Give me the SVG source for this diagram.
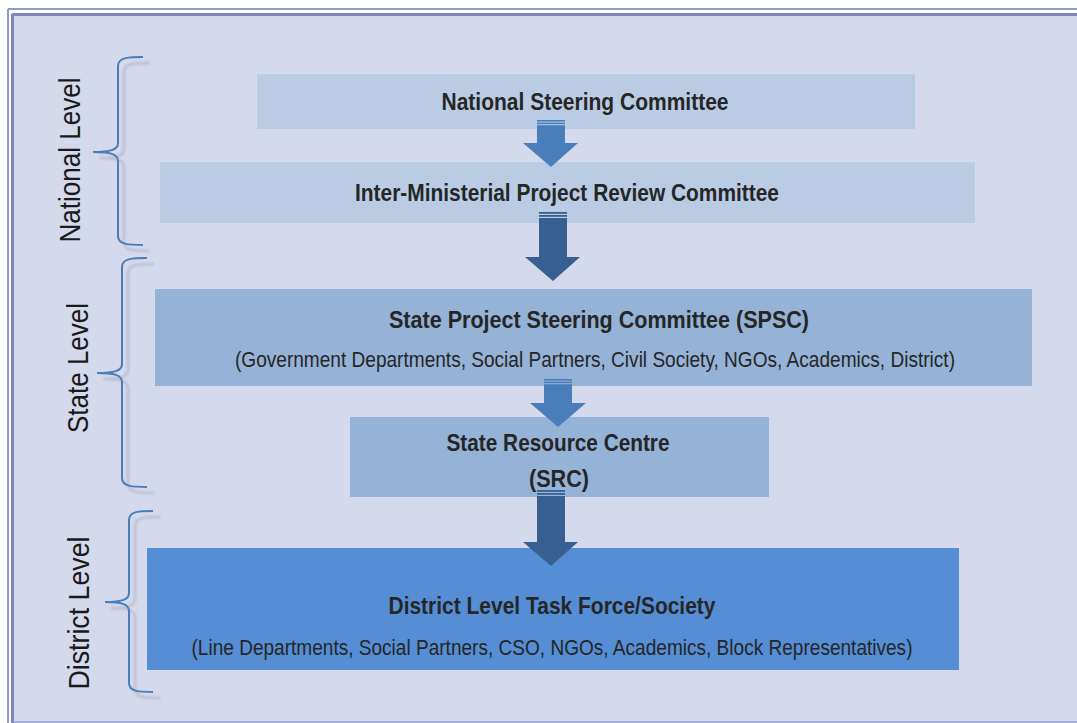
<svg xmlns="http://www.w3.org/2000/svg" width="1077" height="723" viewBox="0 0 1077 723">
  <defs>
    <style>
      .lvl { font-family: "Liberation Sans", Arial, sans-serif; font-size: 30px; fill: #1a1a1a; }
      .ttl { font-family: "Liberation Sans", Arial, sans-serif; font-size: 24px; font-weight: bold; fill: #262626; }
      .sub { font-family: "Liberation Sans", Arial, sans-serif; font-size: 22px; fill: #262626; }
      .brace { fill: none; stroke: #4A7EBB; stroke-width: 2; }
      .brace-sh { fill: none; stroke: #A9ADBF; stroke-width: 2.5; opacity: 0.6; }
      .tier1 { fill: #B9CCE4; }
      .tier2 { fill: #95B3D7; }
      .tier3 { fill: #558ED5; }
      .arr-light { fill: #4A7EBB; }
      .arr-dark { fill: #385F92; }
    </style>
    <filter id="soft" x="-20%" y="-20%" width="140%" height="140%">
      <feGaussianBlur stdDeviation="1.2"/>
    </filter>
  </defs>

  <!-- page frame -->
  <rect x="0" y="0" width="1077" height="723" fill="#FFFFFF"/>
  <rect x="14" y="16" width="1063" height="706" fill="#D4D9EC"/>
  <line x1="8" y1="9" x2="1077" y2="9" stroke="#959BC8" stroke-width="2"/>
  <line x1="12" y1="14.5" x2="1077" y2="14.5" stroke="#7E88C0" stroke-width="3"/>
  <line x1="8" y1="9" x2="8" y2="723" stroke="#959BC8" stroke-width="2"/>
  <line x1="12.5" y1="14" x2="12.5" y2="723" stroke="#7E88C0" stroke-width="3"/>
  <line x1="14" y1="722" x2="1077" y2="722" stroke="#A9B0D6" stroke-width="2"/>

  <!-- level labels -->
  <g id="label-national">
    <text class="lvl" transform="translate(80,160) rotate(-90)" text-anchor="middle" textLength="165" lengthAdjust="spacingAndGlyphs">National Level</text>
  </g>
  <g id="label-state">
    <text class="lvl" transform="translate(88,368) rotate(-90)" text-anchor="middle" textLength="130" lengthAdjust="spacingAndGlyphs">State Level</text>
  </g>
  <g id="label-district">
    <text class="lvl" transform="translate(89,613) rotate(-90)" text-anchor="middle" textLength="153" lengthAdjust="spacingAndGlyphs">District Level</text>
  </g>

  <!-- braces -->
  <g id="brace-national">
    <path class="brace-sh" filter="url(#soft)" d="M150,63 C136,63 124,63 124,72 L124,149 C124,156 116,158 99,158 C116,158 124,160 124,167 L124,242 C124,251 136,251 150,251"/>
    <path class="brace" d="M143,57 C130,57 118,57 118,66 L118,143 C118,150 110,152 93,152 C110,152 118,154 118,161 L118,236 C118,245 130,245 143,245"/>
  </g>
  <g id="brace-state">
    <path class="brace-sh" filter="url(#soft)" d="M154,264 C140,264 128,264 128,273 L128,370 C128,377 120,379 103,379 C120,379 128,381 128,388 L128,484 C128,493 140,493 154,493"/>
    <path class="brace" d="M147,258 C134,258 122,258 122,267 L122,364 C122,371 114,373 97,373 C114,373 122,375 122,382 L122,478 C122,487 134,487 147,487"/>
  </g>
  <g id="brace-district">
    <path class="brace-sh" filter="url(#soft)" d="M160,517 C146,517 135,517 135,526 L135,599 C135,606 127,608 111,608 C127,608 135,610 135,617 L135,689 C135,698 146,698 160,698"/>
    <path class="brace" d="M153,511 C140,511 129,511 129,520 L129,593 C129,600 121,602 105,602 C121,602 129,604 129,611 L129,683 C129,692 140,692 153,692"/>
  </g>

  <!-- nodes -->
  <g id="node-nsc">
    <rect class="tier1" x="257" y="74" width="658" height="55"/>
    <text class="ttl" x="585" y="110" text-anchor="middle" textLength="287" lengthAdjust="spacingAndGlyphs">National Steering Committee</text>
  </g>
  <g id="node-imprc">
    <rect class="tier1" x="160" y="162" width="815" height="61"/>
    <text class="ttl" x="567" y="201" text-anchor="middle" textLength="424" lengthAdjust="spacingAndGlyphs">Inter-Ministerial Project Review Committee</text>
  </g>
  <g id="node-spsc">
    <rect class="tier2" x="155" y="289" width="877" height="97"/>
    <text class="ttl" x="599" y="328" text-anchor="middle" textLength="420" lengthAdjust="spacingAndGlyphs">State Project Steering Committee (SPSC)</text>
    <text class="sub" x="595" y="367" text-anchor="middle" textLength="720" lengthAdjust="spacingAndGlyphs">(Government Departments, Social Partners, Civil Society, NGOs, Academics, District)</text>
  </g>
  <g id="node-src">
    <rect class="tier2" x="350" y="417" width="419" height="80"/>
    <text class="ttl" x="558" y="451" text-anchor="middle" textLength="223" lengthAdjust="spacingAndGlyphs">State Resource Centre</text>
    <text class="ttl" x="559" y="487" text-anchor="middle" textLength="60" lengthAdjust="spacingAndGlyphs">(SRC)</text>
  </g>
  <g id="node-district">
    <rect class="tier3" x="147" y="548" width="812" height="122"/>
    <text class="ttl" x="552" y="614" text-anchor="middle" textLength="327" lengthAdjust="spacingAndGlyphs">District Level Task Force/Society</text>
    <text class="sub" x="552" y="655" text-anchor="middle" textLength="721" lengthAdjust="spacingAndGlyphs">(Line Departments, Social Partners, CSO, NGOs, Academics, Block Representatives)</text>
  </g>

  <!-- connectors: block arrows between tiers -->
  <g id="connectors">
    <g id="arrow-nsc-imprc" class="arr-light">
      <rect x="537" y="120" width="28" height="1.6"/>
      <rect x="537" y="122.6" width="28" height="1.6"/>
      <path d="M537,125.2 H565 V143 H578 L551,167 L523,143 H537 Z"/>
    </g>
    <g id="arrow-imprc-spsc" class="arr-dark">
      <rect x="539" y="212" width="28" height="1.8"/>
      <rect x="539" y="215" width="28" height="1.8"/>
      <path d="M539,218 H567 V257 H580 L553,281 L525,257 H539 Z"/>
    </g>
    <g id="arrow-spsc-src" class="arr-light">
      <rect x="544" y="379" width="28" height="1.6"/>
      <rect x="544" y="381.6" width="28" height="1.6"/>
      <path d="M544,384.2 H572 V403 H586 L558,427 L530,403 H544 Z"/>
    </g>
    <g id="arrow-src-district" class="arr-dark">
      <rect x="537" y="490" width="28" height="1.8"/>
      <rect x="537" y="493" width="28" height="1.8"/>
      <path d="M537,496 H565 V542 H578 L551,566 L523,542 H537 Z"/>
    </g>
  </g>
</svg>
